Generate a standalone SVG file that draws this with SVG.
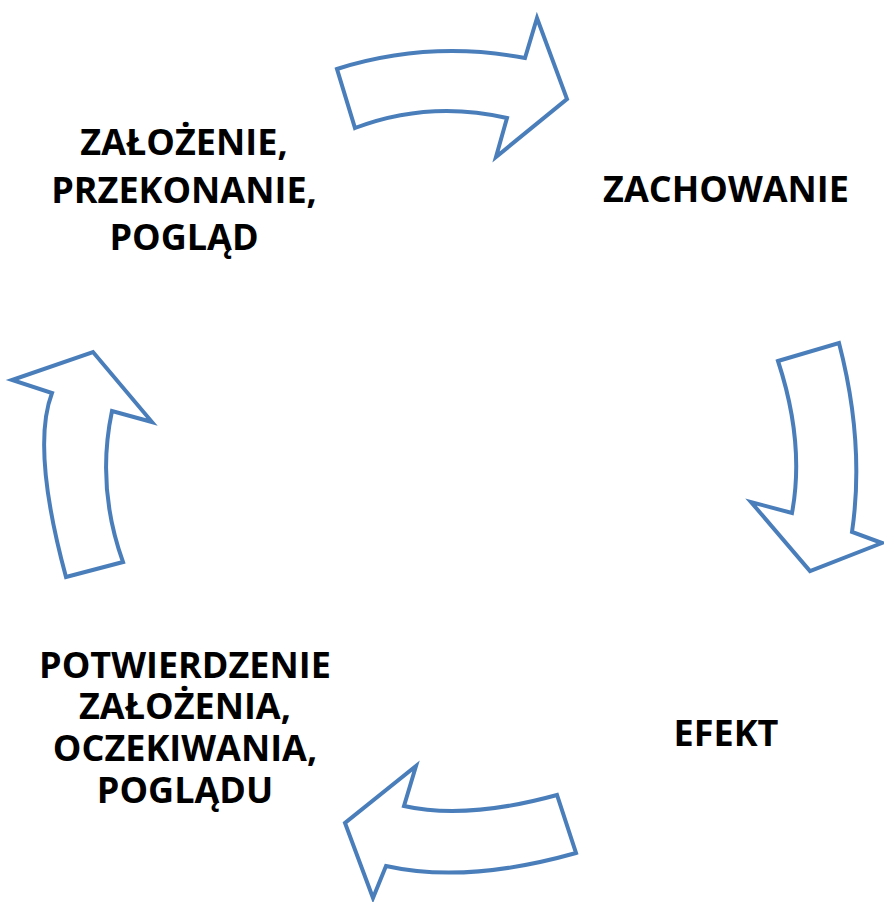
<svg xmlns="http://www.w3.org/2000/svg" width="884" height="902" viewBox="0 0 884 902">
  <style>
    .lbl { font-family: "Open Sans", "Liberation Sans", sans-serif; font-weight: 700; font-size: 36px; fill: #000; text-anchor: middle; }
    .arrow { fill: #fff; stroke: #4A7EBB; stroke-width: 4; stroke-linejoin: miter; }
  </style>
  <rect width="884" height="902" fill="#fff"/>

  <!-- curved block arrows forming the cycle -->
  <g id="connectors">
    <path id="arrow-top" class="arrow" d="M337,69 Q429,40 525,58 L537,18 L567,99 L496,157 L507,118 Q429,100 355,128 Z"/>
    <path id="arrow-right" class="arrow" d="M778,361 L839,343 Q865,443 852,532 L882,543 L810,571 L751,502 L792,513 Q805,443 778,361 Z"/>
    <path id="arrow-bottom" class="arrow" d="M557,795 Q466,820 404,806 L416,766 L345,823 L373,898 L386,866 Q466,884 576,853 Z"/>
    <path id="arrow-left" class="arrow" d="M66,577 L123,562 Q96,487 112,411 L152,422 L93,352 L12,380 L52,393 Q31,448 66,577 Z"/>
  </g>

  <g id="node-zalozenie">
    <text class="lbl" x="184" y="155">ZAŁOŻENIE,</text>
    <text class="lbl" x="184" y="203">PRZEKONANIE,</text>
    <text class="lbl" x="184" y="250">POGLĄD</text>
  </g>

  <g id="node-zachowanie">
    <text class="lbl" x="726" y="202">ZACHOWANIE</text>
  </g>

  <g id="node-efekt">
    <text class="lbl" x="726" y="746">EFEKT</text>
  </g>

  <g id="node-potwierdzenie">
    <text class="lbl" x="185" y="678">POTWIERDZENIE</text>
    <text class="lbl" x="185" y="719">ZAŁOŻENIA,</text>
    <text class="lbl" x="185" y="761">OCZEKIWANIA,</text>
    <text class="lbl" x="185" y="803">POGLĄDU</text>
  </g>
</svg>
